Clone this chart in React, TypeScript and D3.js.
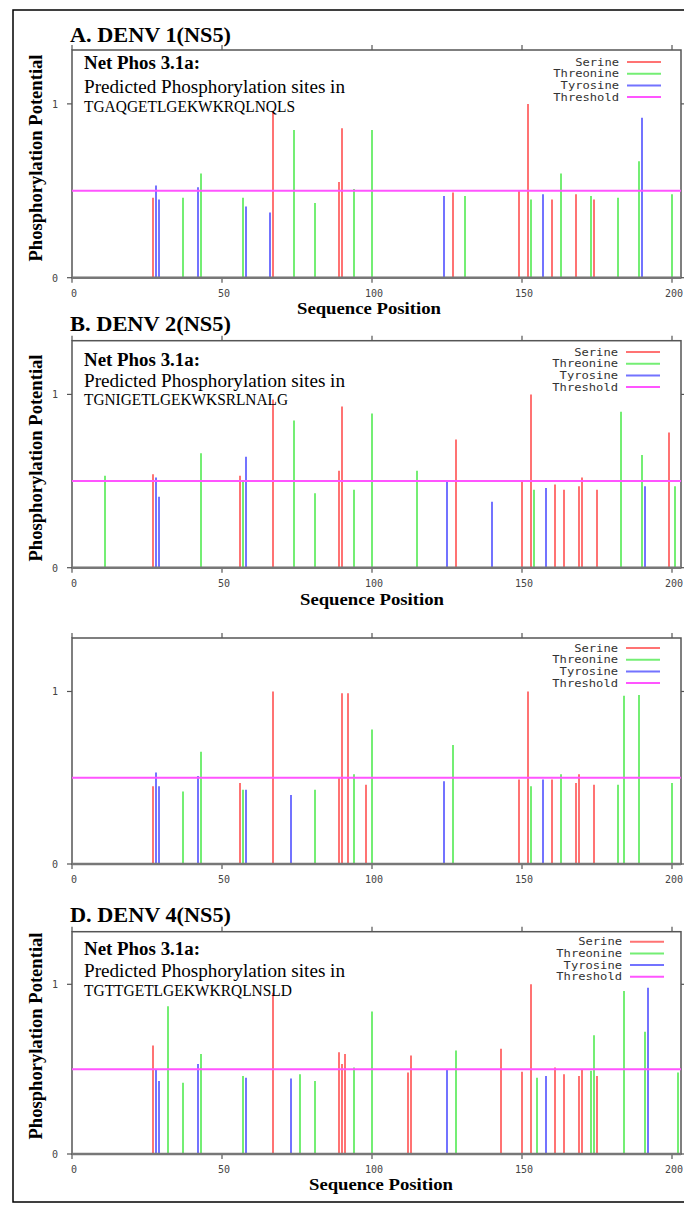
import React from 'react';
import * as d3 from 'd3';

// [sequence position, phosphorylation potential]
const serineA = [[27, 0.46], [67, 0.96], [89, 0.55], [90, 0.86], [127, 0.49], [149, 0.5], [152, 1.0], [160, 0.45], [168, 0.48], [174, 0.45]];
const threonineA = [[37, 0.46], [43, 0.6], [57, 0.46], [74, 0.85], [81, 0.43], [94, 0.51], [100, 0.85], [131, 0.47], [153, 0.45], [163, 0.6], [173, 0.47], [182, 0.46], [189, 0.67], [200, 0.48]];
const tyrosineA = [[28, 0.53], [29, 0.45], [42, 0.52], [58, 0.41], [66, 0.375], [124, 0.47], [157, 0.48], [190, 0.92]];

const serineB = [[27, 0.54], [56, 0.53], [67, 0.97], [89, 0.56], [90, 0.93], [128, 0.74], [150, 0.5], [153, 1.0], [161, 0.48], [164, 0.45], [169, 0.47], [170, 0.52], [175, 0.45], [199, 0.78]];
const threonineB = [[11, 0.53], [43, 0.66], [57, 0.5], [74, 0.85], [81, 0.43], [94, 0.45], [100, 0.89], [115, 0.56], [154, 0.45], [183, 0.9], [190, 0.65], [201, 0.47]];
const tyrosineB = [[28, 0.52], [29, 0.41], [58, 0.64], [125, 0.5], [140, 0.38], [158, 0.46], [191, 0.47]];

const serineC = [[27, 0.45], [56, 0.47], [67, 1.0], [89, 0.5], [90, 0.99], [92, 0.99], [98, 0.46], [149, 0.49], [152, 1.0], [160, 0.49], [168, 0.47], [169, 0.52], [174, 0.46]];
const threonineC = [[37, 0.42], [43, 0.65], [57, 0.43], [81, 0.43], [94, 0.52], [100, 0.78], [127, 0.69], [153, 0.45], [163, 0.52], [182, 0.46], [184, 0.975], [189, 0.98], [200, 0.47]];
const tyrosineC = [[28, 0.53], [29, 0.45], [42, 0.51], [58, 0.43], [73, 0.4], [124, 0.48], [157, 0.49]];

const serineD = [[27, 0.64], [67, 0.95], [89, 0.6], [90, 0.53], [91, 0.59], [112, 0.48], [113, 0.58], [143, 0.62], [150, 0.485], [153, 1.0], [161, 0.51], [164, 0.47], [169, 0.46], [170, 0.5], [175, 0.46]];
const threonineD = [[32, 0.87], [37, 0.42], [43, 0.59], [57, 0.46], [76, 0.47], [81, 0.43], [94, 0.51], [100, 0.84], [128, 0.61], [155, 0.45], [173, 0.49], [174, 0.7], [184, 0.96], [191, 0.72], [202, 0.48]];
const tyrosineD = [[28, 0.5], [29, 0.43], [42, 0.53], [58, 0.45], [73, 0.445], [125, 0.5], [158, 0.46], [192, 0.98]];

const threshold = 0.5;
const xTicks = [0, 50, 100, 150, 200];
const yTicks = [0, 1];
const legendLabels = ['Serine', 'Threonine', 'Tyrosine', 'Threshold'];
const titles = ['A. DENV 1(NS5)', 'B. DENV 2(NS5)', '', 'D. DENV 4(NS5)'];
const sequences = ['TGAQGETLGEKWKRQLNQLS', 'TGNIGETLGEKWKSRLNALG', '', 'TGTTGETLGEKWKRQLNSLD'];

const COLORS = ['#ff7373', '#74ee74', '#7373ff', '#ff55ff'];
const SERIF = '"Liberation Serif", "Times New Roman", serif';
const MONO = '"DejaVu Sans Mono", "Liberation Mono", monospace';

// layout per panel
const panels = [
  {top: 50, bottom: 277.7, titleY: 42, textY: [69, 93, 112], seqW: 211, legendY: 62, legendRight: 619, xLabelY: 314, xLabelX: 369, yLabelY: 158, data: [serineA, threonineA, tyrosineA]},
  {top: 340.7, bottom: 567.7, titleY: 331, textY: [365.7, 387, 405], seqW: 204, legendY: 352, legendRight: 618, xLabelY: 605, xLabelX: 372, yLabelY: 458, data: [serineB, threonineB, tyrosineB]},
  {top: 638, bottom: 864, titleY: 0, textY: null, seqW: 0, legendY: 648, legendRight: 618, xLabelY: 0, xLabelX: 0, yLabelY: 0, data: [serineC, threonineC, tyrosineC]},
  {top: 931.7, bottom: 1154, titleY: 921.7, textY: [955, 977, 996], seqW: 208, legendY: 941.7, legendRight: 622, xLabelY: 1190, xLabelX: 381, yLabelY: 1036, data: [serineD, threonineD, tyrosineD]},
];

const LEFT = 72;
const RIGHT = 681;

function Panel({p, i}) {
  const x = d3.scaleLinear().domain([0, 203]).range([LEFT, RIGHT]);
  const y = d3.scaleLinear().domain([0, 1.31]).range([p.bottom, p.top]);
  return (
    <g>
      {titles[i] && (
        <text x={70} y={p.titleY} fontFamily={SERIF} fontWeight="bold" fontSize={22} textLength={161} lengthAdjust="spacingAndGlyphs">{titles[i]}</text>
      )}
      {/* frame */}
      <rect x={LEFT} y={p.top} width={RIGHT - LEFT} height={p.bottom - p.top} fill="none" stroke="#555" strokeWidth={1.5} />
      {/* ticks */}
      {xTicks.map(t => (
        <g key={'xt' + t}>
          <line x1={x(t)} x2={x(t)} y1={p.bottom} y2={p.bottom + 5} stroke="#555" strokeWidth={1.2} />
          <line x1={x(t)} x2={x(t)} y1={p.top} y2={p.top - 5} stroke="#555" strokeWidth={1.2} />
          <text x={x(t) + 2} y={p.bottom + 19} fontFamily={MONO} fontSize={10} fill="#444" textAnchor="middle">{t}</text>
        </g>
      ))}
      {yTicks.map(t => (
        <g key={'yt' + t}>
          <line x1={LEFT - 5} x2={LEFT} y1={y(t)} y2={y(t)} stroke="#555" strokeWidth={1.2} />
          <line x1={RIGHT} x2={RIGHT + 5} y1={y(t)} y2={y(t)} stroke="#555" strokeWidth={1.2} />
          <text x={58} y={y(t) + 4} fontFamily={MONO} fontSize={10} fill="#444" textAnchor="end">{t}</text>
        </g>
      ))}
      {/* impulses */}
      {p.data.map((series, k) =>
        series.map(([pos, v]) => (
          <line key={k + '-' + pos} x1={x(pos)} x2={x(pos)} y1={y(0)} y2={y(v)} stroke={COLORS[k]} strokeWidth={2} />
        ))
      )}
      <line x1={LEFT} x2={RIGHT} y1={y(threshold)} y2={y(threshold)} stroke={COLORS[3]} strokeWidth={2} />
      <line x1={LEFT} x2={RIGHT} y1={y(0)} y2={y(0)} stroke="#777" strokeWidth={2.5} />
      {/* legend */}
      {legendLabels.map((l, k) => (
        <g key={l}>
          <text x={p.legendRight} y={p.legendY + k * 11.7 + 3.5} fontFamily={MONO} fontSize={10} fill="#333" textAnchor="end" textLength={l.length * 7.3} lengthAdjust="spacingAndGlyphs">{l}</text>
          <line x1={p.legendRight + 8} x2={p.legendRight + 42} y1={p.legendY + k * 11.7} y2={p.legendY + k * 11.7} stroke={COLORS[k]} strokeWidth={2} />
        </g>
      ))}
      {p.textY && (
        <g fontFamily={SERIF} fill="#000">
          <text x={84} y={p.textY[0]} fontWeight="bold" fontSize={18} textLength={116} lengthAdjust="spacingAndGlyphs">Net Phos 3.1a:</text>
          <text x={84} y={p.textY[1]} fontSize={18} textLength={261} lengthAdjust="spacingAndGlyphs">Predicted Phosphorylation sites in</text>
          <text x={84} y={p.textY[2]} fontSize={17} textLength={p.seqW} lengthAdjust="spacingAndGlyphs">{sequences[i]}</text>
        </g>
      )}
      {p.xLabelY > 0 && (
        <text x={p.xLabelX} y={p.xLabelY} fontFamily={SERIF} fontWeight="bold" fontSize={17} textAnchor="middle" textLength={144} lengthAdjust="spacingAndGlyphs">Sequence Position</text>
      )}
      {p.yLabelY > 0 && (
        <text transform={`translate(42,${p.yLabelY}) rotate(-90)`} fontFamily={SERIF} fontWeight="bold" fontSize={18} textAnchor="middle" textLength={207} lengthAdjust="spacingAndGlyphs">Phosphorylation  Potential</text>
      )}
    </g>
  );
}

export default function App() {
  return (
    <svg width={684} height={1205} style={{position: 'absolute', left: 0, top: 0, display: 'block', background: '#fff'}}>
      <rect x={0} y={0} width={684} height={1205} fill="#fff" />
      <rect x={13} y={10} width={720} height={1192} fill="none" stroke="#000" strokeWidth={1.5} />
      {panels.map((p, i) => <Panel key={i} p={p} i={i} />)}
    </svg>
  );
}
